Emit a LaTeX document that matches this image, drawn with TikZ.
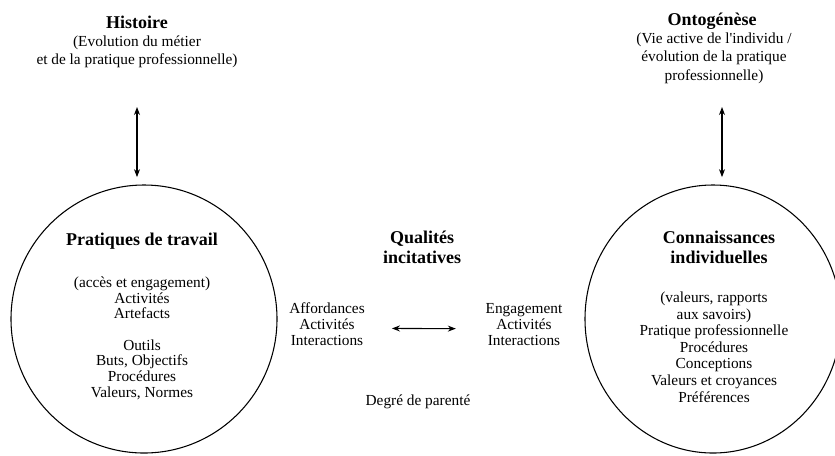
\documentclass[tikz,border=0pt]{standalone}
\usepackage{fontspec}
\setmainfont{Liberation Serif}
\usetikzlibrary{shapes.geometric, arrows.meta}
\tikzset{
  titre/.style={font=\fontsize{13.5}{15}\selectfont\bfseries, align=center, inner sep=0pt, anchor=base},
  texte/.style={font=\fontsize{11.5}{12}\selectfont, align=center, inner sep=0pt, anchor=base},
  bulle/.style={draw, ellipse, inner sep=0pt},
}
\begin{document}
\begin{tikzpicture}[>={Stealth[length=6pt, width=4.5pt]}, x=.75pt, y=-.75pt, line width=.8pt]
\useasboundingbox (0,0) rectangle (835,455);

% les deux bulles
\node[bulle, minimum width=199.5pt, minimum height=201pt] (prat) at (144,319) {};
\node[bulle, minimum width=192pt, minimum height=201pt] (conn) at (713,319) {};

% en haut (ancre = ligne du bas)
\node[titre] (hist) at (137,28) {Histoire};
\node[texte, font=\fontsize{11.5}{13}\selectfont] (histtxt) at (137,64) {(Evolution du métier\\et de la pratique professionnelle)};
\node[titre] (onto) at (712,25) {Ontogénèse};
\node[texte, font=\fontsize{11.5}{13.7}\selectfont] (ontotxt) at (714,80) {(Vie active de l\textquotesingle individu /\\évolution de la pratique\\professionnelle)};

% dans les bulles
\node[titre] (pratt) at (142,245) {Pratiques de travail};
\node[texte, font=\fontsize{11.5}{11.7}\selectfont] (pratl) at (142,397) {(accès et engagement)\\Activités\\Artefacts\\[12pt]Outils\\Buts, Objectifs\\Procédures\\Valeurs, Normes};
\node[titre] (connt) at (719,263) {Connaissances\\individuelles};
\node[texte, font=\fontsize{11.5}{12.4}\selectfont] (connl) at (714,402) {(valeurs, rapports\\aux savoirs)\\Pratique professionnelle\\Procédures\\Conceptions\\Valeurs et croyances\\Préférences};

% au milieu
\node[titre] (qual) at (422,263) {Qualités\\incitatives};
\node[texte] (aff) at (327,345) {Affordances\\Activités\\Interactions};
\node[texte] (eng) at (524,345) {Engagement\\Activités\\Interactions};
\node[texte] (deg) at (418,405) {Degré de parenté};

\coordinate (h) at (137,107);
\coordinate (o) at (722,107);
\draw[<->, shorten >=5.5pt](h)--(h |- prat.north);
\draw[<->, shorten >=5.5pt](o)--(o |- conn.north);
\draw[<->, shorten <=20pt, shorten >=22pt]([yshift=-3.5pt]aff.east)--([yshift=-3.5pt]eng.west);
\end{tikzpicture}
\end{document}
